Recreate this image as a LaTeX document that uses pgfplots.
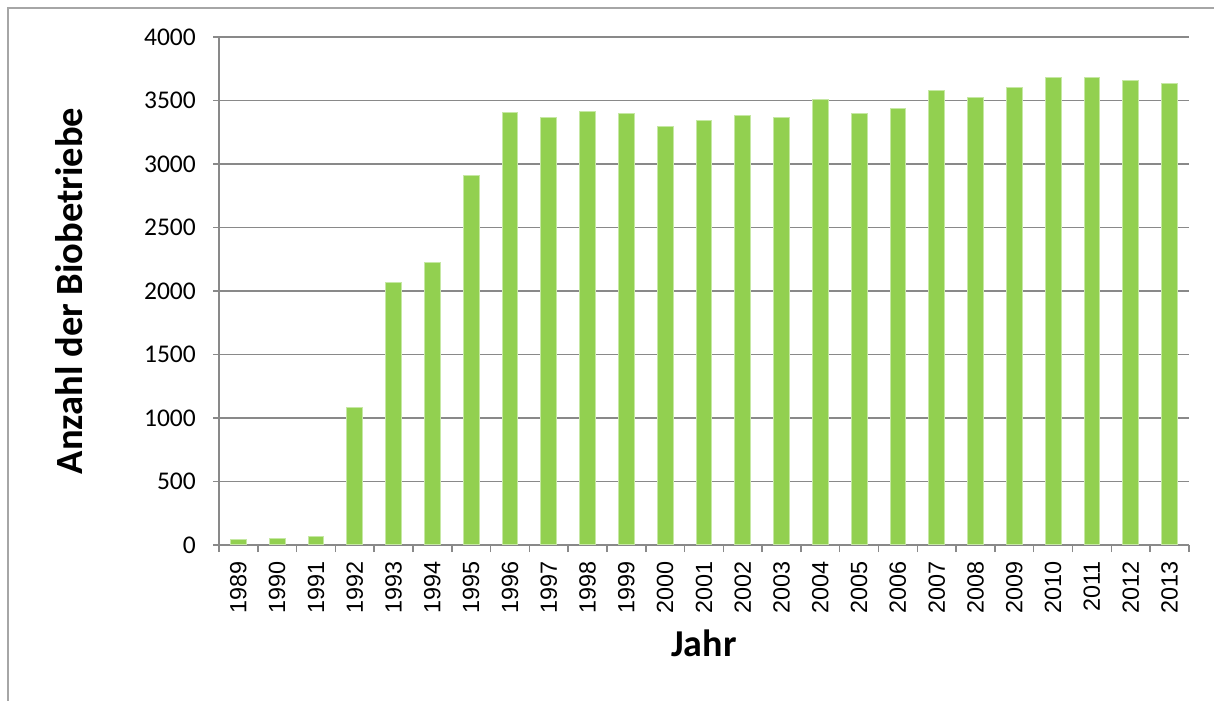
\documentclass[border=0pt]{standalone}
\usepackage{pgfplots}
\pgfplotsset{compat=1.18}
\usepackage{fontspec}
\setmainfont{Carlito}
\newfontfamily\arialf{Liberation Sans}
\definecolor{barg}{HTML}{92D050}
\definecolor{barb}{HTML}{C6E8A4}
\definecolor{gridg}{HTML}{898989}
\definecolor{frameg}{HTML}{A6A6A6}
\pgfplotstableread{
year value
1989 47
1990 50
1991 65
1992 1081
1993 2063
1994 2228
1995 2906
1996 3404
1997 3370
1998 3412
1999 3396
2000 3299
2001 3346
2002 3378
2003 3370
2004 3504
2005 3399
2006 3438
2007 3577
2008 3527
2009 3604
2010 3683
2011 3685
2012 3659
2013 3630
}\datatable
\begin{document}
\begin{tikzpicture}
\useasboundingbox (0bp,0bp) rectangle (1214bp,701bp);
\draw[frameg, line width=1.2bp] (8bp,-20bp) -- (8bp,693bp) -- (1240bp,693bp);
\begin{axis}[
  at={(219bp,156bp)}, anchor=south west,
  scale only axis, width=970bp, height=508bp,
  xmin=1988.5, xmax=2013.5, ymin=0, ymax=4000,
  ytick={0,500,...,4000},
  xtick={1989,...,2013},
  axis x line*=bottom, axis y line*=left,
  axis line style={gridg, line width=1.5bp, -},
  ymajorgrids, major grid style={gridg, line width=1.5bp},
  tick align=outside, major tick length=6bp,
  ytick style={gridg, line width=1.5bp},
  xtick style={draw=none},
  extra x ticks={1988.5,1989.5,...,2013.5},
  extra x tick labels={},
  extra x tick style={grid=none, major tick length=7bp, xtick style={draw=gridg, line width=1.5bp}},
  /pgf/number format/assume math mode=true,
  /pgf/number format/1000 sep={},
  yticklabel style={font=\fontsize{25.5bp}{30bp}\selectfont, inner sep=0pt, anchor=east, xshift=-17bp},
  xticklabel style={font=\arialf\fontsize{23.4bp}{28bp}\selectfont, yshift=-10bp, rotate=90, anchor=east, inner sep=0pt},
  ylabel={Anzahl der Biobetriebe},
  ylabel style={font=\bfseries\fontsize{38.5bp}{44bp}\selectfont, at={(axis description cs:-0.141,0.5)}, anchor=base},
  xlabel={Jahr},
  xlabel style={font=\bfseries\fontsize{38bp}{44bp}\selectfont, at={(axis description cs:0.5,-0.22)}, anchor=base},
  clip=false,
]
\addplot[ybar, bar width=15.7bp, fill=barg, draw=barb, line width=1bp] table[x=year, y=value] {\datatable};
\end{axis}
\end{tikzpicture}
\end{document}
